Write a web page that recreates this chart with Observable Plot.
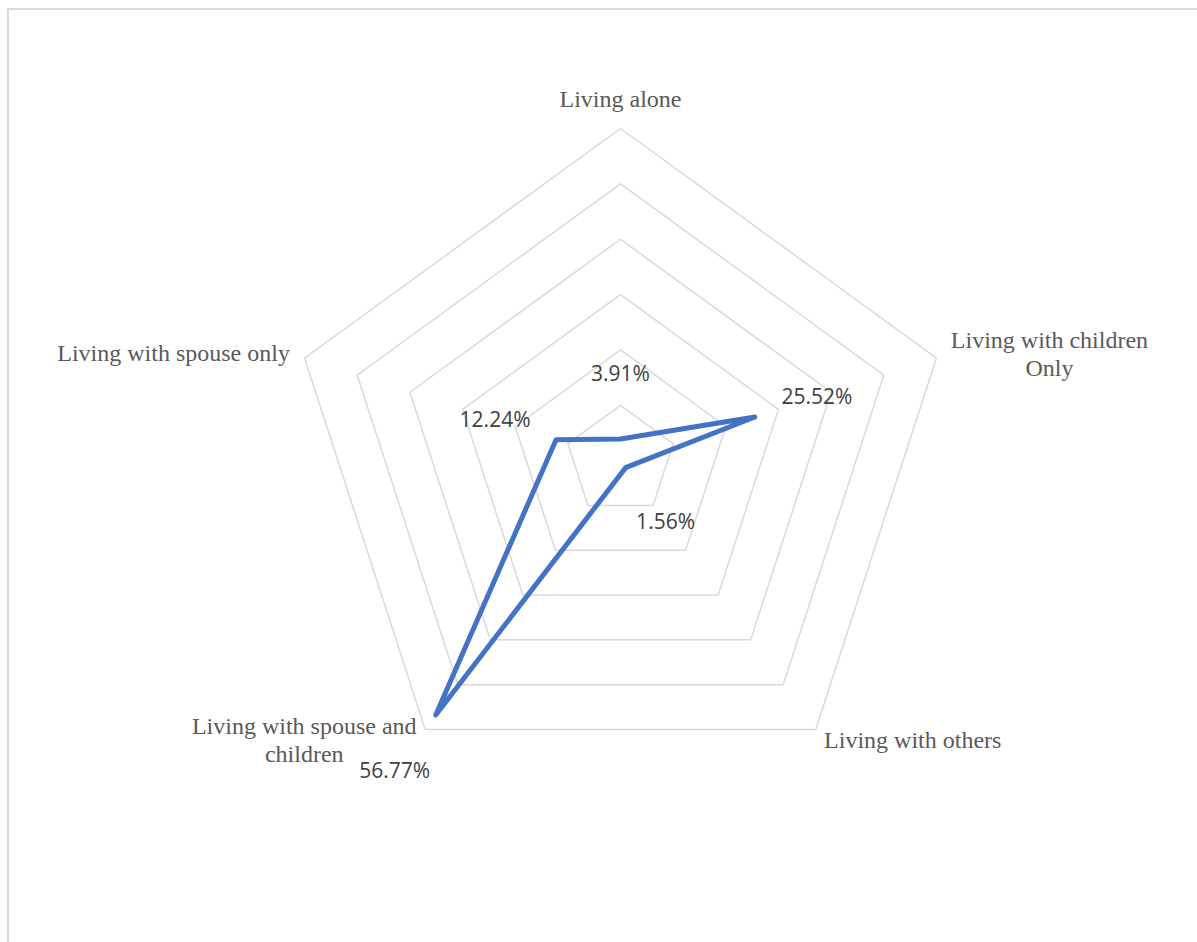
<!DOCTYPE html>
<html>
<head>
<meta charset="utf-8">
<script src="https://cdn.jsdelivr.net/npm/d3@7"></script>
<script src="https://cdn.jsdelivr.net/npm/@observablehq/plot@0.6"></script>
<style>
  html, body { margin: 0; padding: 0; background: #fff; overflow: hidden; }
  #wrap { position: relative; width: 1197px; height: 942px; }
  #frame { position: absolute; left: 7px; top: 8px; width: 1400px; height: 1200px;
           border-left: 2px solid #d9d9d9; border-top: 2px solid #d9d9d9; box-sizing: border-box; }
  #chart { position: absolute; left: 0; top: 0; }
</style>
</head>
<body>
<div id="wrap"><div id="frame"></div><div id="chart"></div></div>
<script>
// ---- data ----
const categories = [
  "Living alone",
  "Living with children\nOnly",
  "Living with others",
  "Living with spouse and\nchildren",
  "Living with spouse only"
];
const values = [3.91, 25.52, 1.56, 56.77, 12.24];
const valueLabels = ["3.91%", "25.52%", "1.56%", "56.77%", "12.24%"];
const ringTicks = [10, 20, 30, 40, 50, 60];

// ---- layout (positions / offsets) ----
const W = 1197, H = 942;
const cx = 620, cy = 460.2, R = 332.2, maxVal = 60;
const k = R / maxVal;
const catLabelOffsets = [[0, -31], [113, -5], [97, 10], [-121, 10], [-131, -6]];
const valLabelOffsets = [[0, -65], [62, -20], [40, 55], [-41, 56], [-61, -19]];

const n = categories.length;
const ang = i => (i * 2 * Math.PI) / n;
const px = (r, i) => r * Math.sin(ang(i));
const py = (r, i) => r * Math.cos(ang(i));

const rings = ringTicks.flatMap(t => categories.map((c, i) => ({ring: t, x: px(t, i), y: py(t, i)})));
const pts = values.map((v, i) => ({cat: categories[i], v, label: valueLabels[i], x: px(v, i), y: py(v, i),
  dx: valLabelOffsets[i][0], dy: valLabelOffsets[i][1]}));
const catPts = categories.map((c, i) => ({cat: c, x: px(maxVal, i), y: py(maxVal, i),
  dx: catLabelOffsets[i][0], dy: catLabelOffsets[i][1]}));

const marks = [
  Plot.line(rings, {x: "x", y: "y", z: "ring", curve: "linear-closed", stroke: "#d9d9d9", strokeWidth: 1.5}),
  Plot.line(pts, {x: "x", y: "y", curve: "linear-closed", stroke: "#4472C4", strokeWidth: 5,
    strokeLinejoin: "round", strokeLinecap: "round"})
];
pts.forEach(p => marks.push(Plot.text([p], {x: "x", y: "y", text: "label", dx: p.dx, dy: p.dy,
  fill: "#404040", fontSize: 21, fontFamily: "'Open Sans', sans-serif"})));
catPts.forEach(p => marks.push(Plot.text([p], {x: "x", y: "y", text: "cat", dx: p.dx, dy: p.dy,
  fill: "#595959", fontSize: 24, fontFamily: "'Liberation Serif', serif", lineHeight: 1.17})));

const chart = Plot.plot({
  width: W, height: H, margin: 0,
  x: {domain: [-cx / k, (W - cx) / k], range: [0, W], axis: null},
  y: {domain: [-(H - cy) / k, cy / k], range: [H, 0], axis: null},
  style: {background: "transparent", overflow: "visible"},
  marks
});
document.getElementById("chart").appendChild(chart);
</script>
</body>
</html>
